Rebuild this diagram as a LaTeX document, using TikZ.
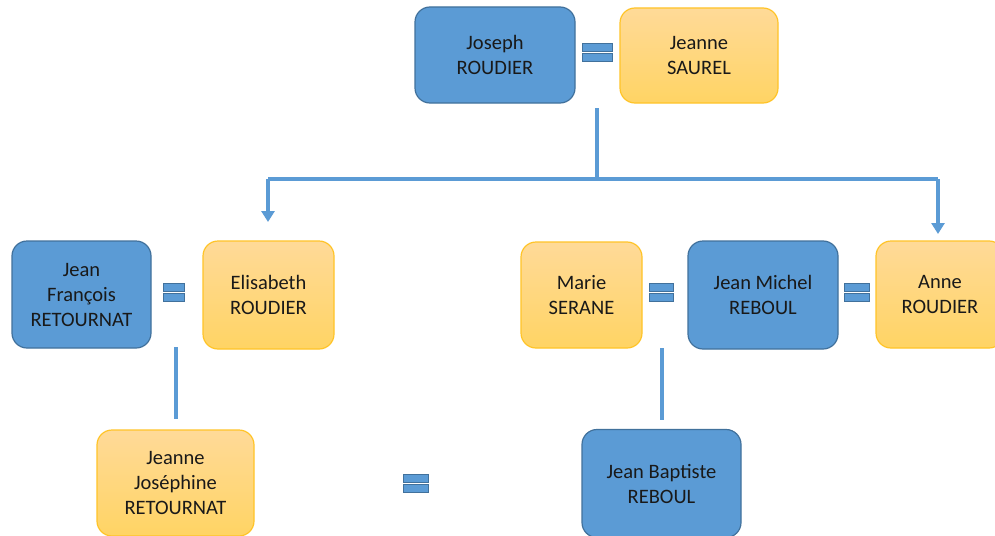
\documentclass[tikz,border=0pt]{standalone}
\usepackage{fontspec}
\setmainfont{Carlito}
\usetikzlibrary{arrows.meta}
\definecolor{bluefill}{RGB}{91,155,213}
\definecolor{blueedge}{RGB}{65,113,156}
\definecolor{yeltop}{RGB}{255,218,152}
\definecolor{yelbot}{RGB}{255,212,100}
\definecolor{yeledge}{RGB}{255,196,40}
\definecolor{linecol}{RGB}{91,155,213}
\tikzset{
  person/.style={rounded corners=15pt, align=center, inner sep=0pt,
    font=\fontsize{20.5}{25}\selectfont, text=black!90, line width=1.2pt},
  man/.style={person, fill=bluefill, draw=blueedge},
  woman/.style={person, draw=yeledge, top color=yeltop, bottom color=yelbot},
  link/.style={draw=linecol, line width=4pt},
  arr/.style={link, -{Triangle[width=13pt,length=11pt]}},
  eqbar/.style={fill=bluefill, draw=blueedge, line width=0.8pt},
  pics/eqsign/.style={code={
    \path[eqbar] (-#1/2,-9) rectangle (#1/2,-1);
    \path[eqbar] (-#1/2,1) rectangle (#1/2,9);
  }}
}
\begin{document}
\begin{tikzpicture}[x=1pt,y=-1pt]
\useasboundingbox (0,0) rectangle (995,535);
\clip (0,0) rectangle (995,535);
\fill[white] (0,0) rectangle (995,535);
% generation 1
\node[man, minimum width=160pt, minimum height=96pt] (joseph) at (495,55) {Joseph\\ROUDIER};
\node[woman, minimum width=158pt, minimum height=95pt] (jeanneS) at (699,55.5) {Jeanne\\SAUREL};
\pic at (597,52) {eqsign=30};
% generation 2
\node[man, minimum width=139pt, minimum height=107pt] (jf) at (81.5,294.5) {Jean\\François\\RETOURNAT};
\node[woman, minimum width=131pt, minimum height=108pt] (elis) at (268.5,295) {Elisabeth\\ROUDIER};
\pic at (174,292) {eqsign=21};
\node[woman, minimum width=121pt, minimum height=106pt] (marie) at (581.5,295) {Marie\\SERANE};
\pic at (661,292) {eqsign=24};
\node[man, minimum width=150pt, minimum height=108pt] (jm) at (763,295) {Jean Michel\\REBOUL};
\pic at (856.5,292) {eqsign=25};
\node[woman, minimum width=128pt, minimum height=107pt] (anne) at (940,294.5) {Anne\\ROUDIER};
% generation 3
\node[woman, minimum width=157pt, minimum height=106pt] (jj) at (175.5,483) {Jeanne\\Joséphine\\RETOURNAT};
\pic at (416,483.5) {eqsign=25};
\node[man, minimum width=159pt, minimum height=108pt] (jb) at (661.5,483.5) {Jean Baptiste\\REBOUL};
% connectors
\coordinate (top1) at (597,108);
\coordinate (fork) at (597,179);
\coordinate (lfork) at (268,179);
\coordinate (rfork) at (938,179);
\coordinate (ltip) at (268,222);
\coordinate (rtip) at (938,234);
\draw[link] (top1) -- (fork);
\draw[link] (lfork) -- (rfork);
\draw[arr] (lfork) -- (ltip);
\draw[arr] (rfork) -- (rtip);
\coordinate (l1) at (176,347);
\coordinate (l2) at (176,419);
\draw[link, line width=3.5pt] (l1) -- (l2);
\coordinate (r1) at (662,348);
\coordinate (r2) at (662,420);
\draw[link, line width=3.5pt] (r1) -- (r2);
\end{tikzpicture}
\end{document}
